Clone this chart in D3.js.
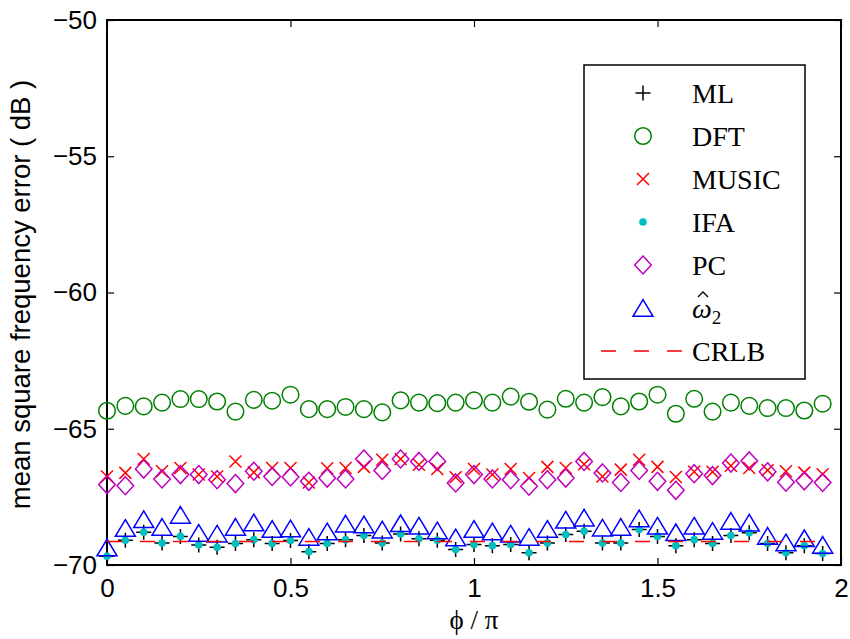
<!DOCTYPE html>
<html>
<head>
<meta charset="utf-8">
<script src="https://cdn.jsdelivr.net/npm/d3@7"></script>
<style>
  body { margin: 0; background: #fff; }
</style>
</head>
<body>
<div id="chart"></div>
<script>
// phi / pi sample points
const phi = [0, 0.05, 0.1, 0.15, 0.2, 0.25, 0.3, 0.35, 0.4, 0.45,
             0.5, 0.55, 0.6, 0.65, 0.7, 0.75, 0.8, 0.85, 0.9, 0.95,
             1, 1.05, 1.1, 1.15, 1.2, 1.25, 1.3, 1.35, 1.4, 1.45,
             1.5, 1.55, 1.6, 1.65, 1.7, 1.75, 1.8, 1.85, 1.9, 1.95];

// mean square frequency error (dB)
const ml = [-69.68, -69.09, -68.80, -69.19, -68.95, -69.27, -69.35, -69.21, -69.07, -69.21,
            -69.10, -69.51, -69.21, -69.07, -68.92, -69.19, -68.86, -69.04, -69.09, -69.43,
            -69.25, -69.29, -69.25, -69.55, -69.19, -68.88, -68.76, -69.19, -69.19, -68.70,
            -68.95, -69.29, -69.07, -69.21, -68.92, -68.82, -69.21, -69.55, -69.29, -69.58];
const dft = [-64.34, -64.16, -64.18, -64.04, -63.91, -63.91, -64.00, -64.37, -63.94, -63.97,
             -63.75, -64.28, -64.28, -64.20, -64.28, -64.40, -63.96, -64.04, -64.06, -64.04,
             -63.96, -64.04, -63.82, -64.01, -64.30, -63.90, -64.04, -63.84, -64.18, -64.00,
             -63.75, -64.45, -63.90, -64.37, -64.04, -64.16, -64.24, -64.24, -64.33, -64.08];
const music = [-66.75, -66.62, -66.11, -66.56, -66.44, -66.68, -66.75, -66.20, -66.60, -66.44,
               -66.44, -66.97, -66.45, -66.44, -66.40, -66.14, -66.11, -66.32, -66.48, -66.78,
               -66.48, -66.68, -66.48, -66.81, -66.40, -66.44, -66.30, -66.75, -66.50, -66.14,
               -66.40, -66.77, -66.58, -66.58, -66.36, -66.44, -66.52, -66.56, -66.61, -66.67];
const ifa = [-69.68, -69.09, -68.80, -69.19, -68.95, -69.27, -69.35, -69.21, -69.07, -69.21,
             -69.10, -69.51, -69.21, -69.07, -68.92, -69.19, -68.86, -69.04, -69.09, -69.43,
             -69.25, -69.29, -69.25, -69.55, -69.19, -68.88, -68.76, -69.19, -69.19, -68.70,
             -68.95, -69.29, -69.07, -69.21, -68.92, -68.82, -69.21, -69.55, -69.29, -69.58];
const pc = [-67.05, -67.09, -66.48, -66.84, -66.68, -66.68, -66.87, -67.01, -66.56, -66.75,
            -66.77, -66.93, -66.81, -66.84, -66.11, -66.53, -66.11, -66.20, -66.20, -66.99,
            -66.68, -66.84, -66.87, -67.11, -66.87, -66.81, -66.20, -66.62, -66.97, -66.53,
            -66.93, -67.26, -66.65, -66.72, -66.26, -66.18, -66.58, -66.96, -66.91, -66.97];
const omega2 = [-69.36, -68.64, -68.32, -68.60, -68.16, -68.82, -68.85, -68.60, -68.44, -68.68,
                -68.66, -68.97, -68.77, -68.48, -68.51, -68.70, -68.47, -68.56, -68.73, -68.99,
                -68.68, -68.77, -68.85, -68.97, -68.68, -68.34, -68.26, -68.63, -68.60, -68.29,
                -68.56, -68.80, -68.56, -68.75, -68.38, -68.45, -68.93, -69.17, -69.02, -69.26];
const crlb = [-69.14, -69.14, -69.14, -69.14, -69.14, -69.14, -69.14, -69.14, -69.14, -69.14,
              -69.14, -69.14, -69.14, -69.14, -69.14, -69.14, -69.14, -69.14, -69.14, -69.14,
              -69.14, -69.14, -69.14, -69.14, -69.14, -69.14, -69.14, -69.14, -69.14, -69.14,
              -69.14, -69.14, -69.14, -69.14, -69.14, -69.14, -69.14, -69.14, -69.14, -69.14];

const xTicks = [0, 0.5, 1, 1.5, 2];
const yTicks = [-70, -65, -60, -55, -50];

// set the dimensions and margins of the graph
const margin = { top: 20, right: 9, bottom: 74, left: 107 },
    width = 850 - margin.left - margin.right,
    height = 639 - margin.top - margin.bottom;

const svg = d3.select("#chart")
    .append("svg")
    .attr("width", 850)
    .attr("height", 639)
    .append("g")
    .attr("transform", `translate(${margin.left}, ${margin.top})`);

const x = d3.scaleLinear().domain([0, 2]).range([0, width]);
const y = d3.scaleLinear().domain([-70, -50]).range([height, 0]);

const tickFont = "'Liberation Sans', Arial, sans-serif";
const serifFont = "'Liberation Serif', 'Times New Roman', serif";

// axes (ticks point inwards like matlab)
const styleAxis = g => {
    g.select(".domain").remove();
    g.selectAll(".tick line").attr("stroke", "#000").attr("stroke-width", 1.2);
    g.selectAll(".tick text").attr("font-family", tickFont).attr("font-size", "26px").attr("fill", "#000");
};

svg.append("g")
    .attr("transform", `translate(0, ${height})`)
    .call(d3.axisBottom(x).tickValues(xTicks).tickFormat(d3.format("")).tickSize(-7).tickPadding(14))
    .call(styleAxis);
svg.append("g")
    .call(d3.axisTop(x).tickValues(xTicks).tickFormat("").tickSize(-7))
    .call(styleAxis);
svg.append("g")
    .call(d3.axisLeft(y).tickValues(yTicks).tickFormat(d => "\u2212" + Math.abs(d)).tickSize(-7).tickPadding(10))
    .call(styleAxis);
svg.append("g")
    .attr("transform", `translate(${width}, 0)`)
    .call(d3.axisRight(y).tickValues(yTicks).tickFormat("").tickSize(-7))
    .call(styleAxis);

// axis box
svg.append("rect")
    .attr("width", width)
    .attr("height", height)
    .attr("fill", "none")
    .attr("stroke", "#000")
    .attr("stroke-width", 2);

// axis labels
svg.append("text")
    .attr("x", width / 2)
    .attr("y", height + 64)
    .attr("text-anchor", "middle")
    .attr("font-family", serifFont)
    .attr("font-size", "27px")
    .text("\u03D5 / \u03C0");

svg.append("text")
    .attr("transform", `translate(${-77}, ${height / 2 + 2}) rotate(-90)`)
    .attr("text-anchor", "middle")
    .attr("font-family", tickFont)
    .attr("font-size", "27.5px")
    .text("mean square frequency error ( dB )");

// marker shapes
const shapes = {
    plus: "M-7.5,0H7.5M0,-7.5V7.5",
    cross: "M-6,-6L6,6M-6,6L6,-6",
    diamond: "M0,-9L8.3,0L0,9L-8.3,0Z",
    triangle: "M0,-8.3L10,8.3L-10,8.3Z"
};

const series = [
    { name: "ML", values: ml, color: "#000000", type: "path", shape: "plus" },
    { name: "DFT", values: dft, color: "#008000", type: "circle" },
    { name: "MUSIC", values: music, color: "#ff0000", type: "path", shape: "cross" },
    { name: "IFA", values: ifa, color: "#00bfbf", type: "dot" },
    { name: "PC", values: pc, color: "#bf00bf", type: "path", shape: "diamond" },
    { name: "omega2", values: omega2, color: "#0000ff", type: "path", shape: "triangle" },
    { name: "CRLB", values: crlb, color: "#ff0000", type: "line" }
];

function drawMarker(g, s) {
    if (s.type === "circle") {
        g.append("circle").attr("r", 8.3).attr("fill", "none")
            .attr("stroke", s.color).attr("stroke-width", 1.5);
    } else if (s.type === "dot") {
        g.append("circle").attr("r", 3.8).attr("fill", s.color);
    } else {
        g.append("path").attr("d", shapes[s.shape]).attr("fill", "none")
            .attr("stroke", s.color).attr("stroke-width", 1.5);
    }
}

const plot = svg.append("g");
series.forEach(s => {
    if (s.type === "line") {
        plot.append("path")
            .datum(s.values)
            .attr("fill", "none")
            .attr("stroke", s.color)
            .attr("stroke-width", 1.5)
            .attr("stroke-dasharray", "15,18")
            .attr("d", d3.line().x((d, i) => x(phi[i])).y(d => y(d)));
        return;
    }
    plot.selectAll(null)
        .data(s.values)
        .join("g")
        .attr("transform", (d, i) => `translate(${x(phi[i])}, ${y(d)})`)
        .each(function () { drawMarker(d3.select(this), s); });
});

// legend
const legend = svg.append("g").attr("transform", `translate(${584 - margin.left}, ${65 - margin.top})`);
legend.append("rect")
    .attr("width", 221)
    .attr("height", 314)
    .attr("fill", "#fff")
    .attr("stroke", "#000")
    .attr("stroke-width", 1.5);

series.forEach((s, k) => {
    const row = legend.append("g").attr("transform", `translate(0, ${28 + k * 43})`);
    if (s.type === "line") {
        row.append("line").attr("x1", 17).attr("x2", 101)
            .attr("stroke", s.color).attr("stroke-width", 1.5).attr("stroke-dasharray", "15,18");
    } else {
        drawMarker(row.append("g").attr("transform", "translate(59, 0)"), s);
    }
    const t = row.append("text")
        .attr("x", 108)
        .attr("dy", "0.35em")
        .attr("font-family", serifFont)
        .attr("font-size", "28px");
    if (s.name === "omega2") {
        t.append("tspan").attr("font-style", "italic").text("\u03C9");
        t.append("tspan").attr("font-size", "19px").attr("dy", "6").text("2");
        // hat over omega, drawn as a small chevron
        row.append("path")
            .attr("d", "M114,-11L119,-16L124,-11")
            .attr("fill", "none")
            .attr("stroke", "#000")
            .attr("stroke-width", 1.3);
    } else {
        t.text(s.name);
    }
});
</script>
</body>
</html>
